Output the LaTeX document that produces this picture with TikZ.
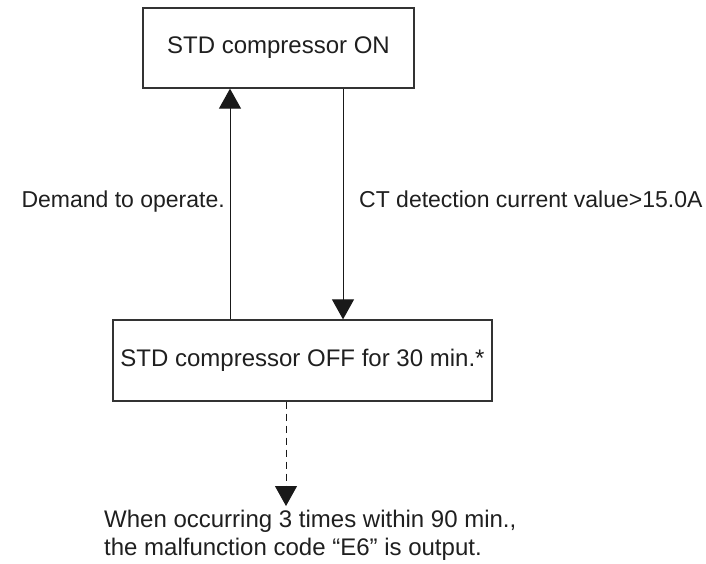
\documentclass[tikz,border=0pt]{standalone}
\usepackage{fontspec}
\setmainfont{Liberation Sans}
\usetikzlibrary{arrows.meta}
\begin{document}
\begin{tikzpicture}[x=1pt,y=1pt,
  statebox/.style={draw=black!80,line width=1.3pt,inner sep=0pt,text=black!88,
    font=\fontsize{24}{28}\selectfont},
  flow/.style={draw=black!90,line width=1pt,-{Triangle[width=22pt,length=20pt]}},
  dashflow/.style={flow,dash pattern=on 7pt off 5pt},
  lbl/.style={inner sep=0pt,text=black!88,font=\fontsize{23}{27}\selectfont},
  note/.style={inner sep=0pt,text=black!88,font=\fontsize{24}{28}\selectfont,anchor=base west}]
\useasboundingbox (0,0) rectangle (706,-563);
\node[statebox,minimum width=271pt,minimum height=80pt] (on) at (278.5,-48) {STD compressor ON};
\node[statebox,minimum width=379pt,minimum height=81pt] (off) at (302.5,-360.5) {STD compressor OFF for 30 min.*};
\coordinate (lx) at (230,0);
\coordinate (rx) at (343,0);
\coordinate (dx) at (286,0);
\coordinate (dend) at (286,-506);
\draw[flow] (off.north -| lx) -- (on.south -| lx);
\draw[flow] (on.south -| rx) -- (off.north -| rx);
\draw[dashflow] (off.south -| dx) -- (dend);
\node[lbl,anchor=base east] (demand) at (225,-207) {Demand to operate.};
\node[lbl,anchor=base west] (ct) at (359,-207) {CT detection current value>15.0A};
\node[note] (note1) at (104,-527) {When occurring 3 times within 90 min.,};
\node[note] (note2) at (104,-555) {the malfunction code “E6” is output.};
\end{tikzpicture}
\end{document}
